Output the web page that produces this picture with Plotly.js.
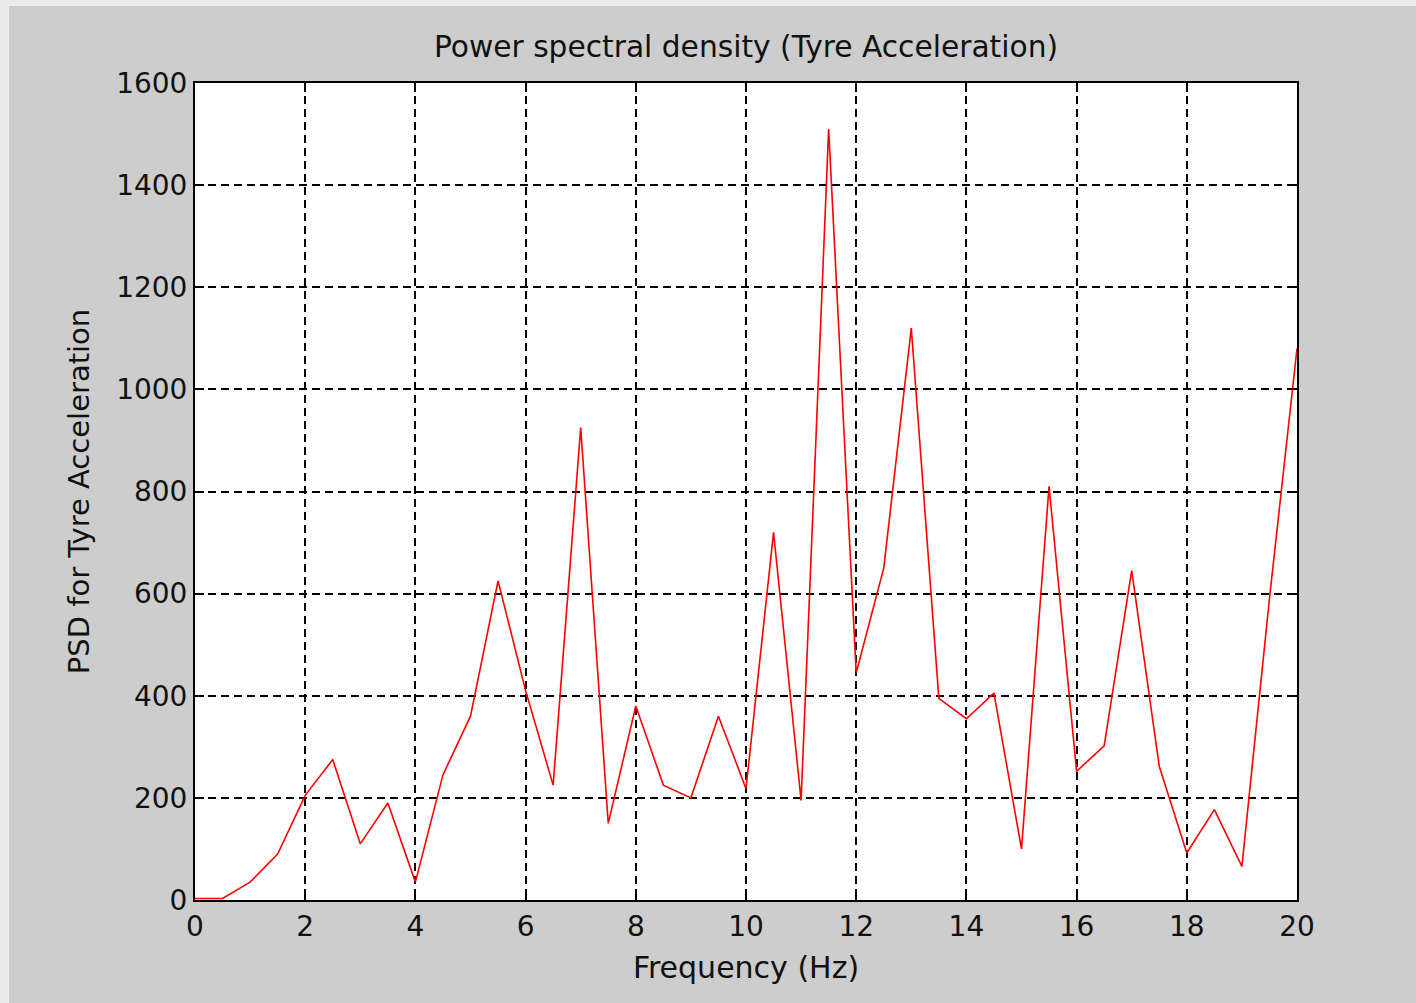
<!DOCTYPE html>
<html>
<head>
<meta charset="utf-8">
<script src="https://cdn.plot.ly/plotly-3.0.1.min.js"></script>
<style>
  html, body { margin: 0; padding: 0; background: #ececec; width: 1416px; height: 1003px; overflow: hidden; }
  #chart { position: absolute; left: 9px; top: 6px; width: 1407px; height: 997px; }
</style>
</head>
<body>
<div id="chart"></div>
<script>
const frequency = [0, 0.5, 1, 1.5, 2, 2.5, 3, 3.5, 4, 4.5, 5, 5.5, 6, 6.5, 7, 7.5, 8, 8.5, 9, 9.5, 10,
                   10.5, 11, 11.5, 12, 12.5, 13, 13.5, 14, 14.5, 15, 15.5, 16, 16.5, 17, 17.5, 18, 18.5, 19, 19.5, 20];
const psd = [3, 3, 35, 90, 205, 275, 110, 190, 35, 245, 360, 625, 410, 225, 925, 150, 380, 225, 200, 360, 218,
             720, 195, 1510, 445, 650, 1120, 395, 355, 405, 100, 810, 252, 302, 645, 262, 92, 177, 66, 590, 1080];
const xTicks = [0, 2, 4, 6, 8, 10, 12, 14, 16, 18, 20];
const yTicks = [0, 200, 400, 600, 800, 1000, 1200, 1400, 1600];

const fontFamily = '"DejaVu Sans", Verdana, sans-serif';

const trace = {
  x: frequency,
  y: psd,
  type: 'scatter',
  mode: 'lines',
  line: { color: '#ff0000', width: 1.6 },
  hoverinfo: 'skip'
};

const axisCommon = {
  showline: true,
  linecolor: '#000000',
  linewidth: 2,
  mirror: 'ticks',
  ticks: 'inside',
  ticklen: 9,
  tickwidth: 2,
  tickcolor: '#000000',
  showgrid: true,
  gridcolor: '#000000',
  gridwidth: 2,
  griddash: '8px,5px',
  zeroline: false,
  tickfont: { family: fontFamily, size: 28, color: '#111111' }
};

const layout = {
  width: 1407,
  height: 997,
  paper_bgcolor: '#cdcdcd',
  plot_bgcolor: '#ffffff',
  margin: { l: 186, r: 119, t: 77, b: 103 },
  showlegend: false,
  title: {
    text: 'Power spectral density (Tyre Acceleration)',
    font: { family: fontFamily, size: 29.7, color: '#111111' },
    x: 0.5, xref: 'paper',
    y: 1 - 41 / 997, yref: 'container', yanchor: 'middle'
  },
  xaxis: Object.assign({}, axisCommon, {
    range: [0, 20],
    tickmode: 'array',
    tickvals: xTicks,
    ticktext: xTicks.map(String),
    title: { text: 'Frequency (Hz)', font: { family: fontFamily, size: 30, color: '#111111' }, standoff: 15 }
  }),
  yaxis: Object.assign({}, axisCommon, {
    range: [0, 1600],
    tickmode: 'array',
    tickvals: yTicks,
    ticktext: yTicks.map(String),
    title: { text: 'PSD for Tyre Acceleration', font: { family: fontFamily, size: 29, color: '#111111' }, standoff: 18 }
  })
};

Plotly.newPlot('chart', [trace], layout, { staticPlot: true, displayModeBar: false });
</script>
</body>
</html>
